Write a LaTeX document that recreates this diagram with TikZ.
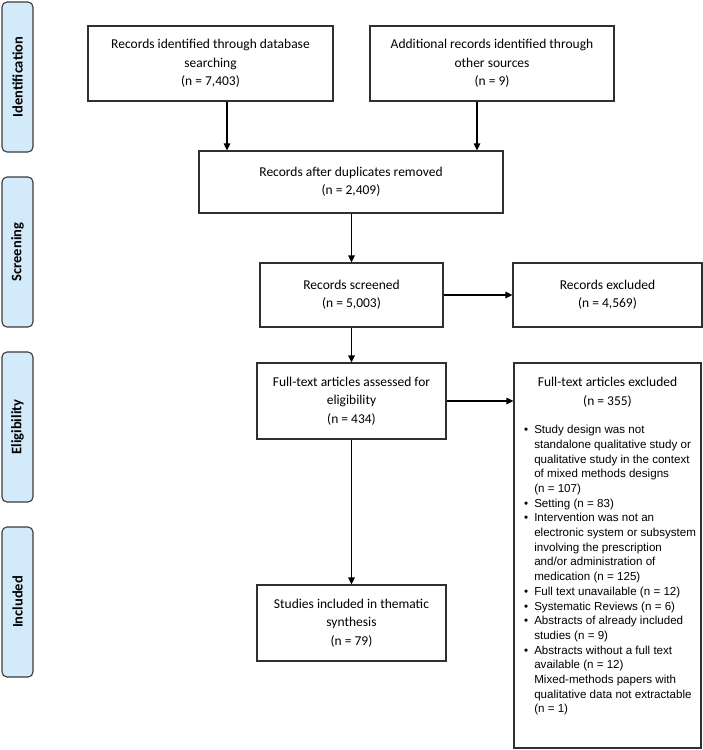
\documentclass[tikz,border=0pt]{standalone}
\usepackage{fontspec}
\setmainfont{Carlito}
\newfontfamily\arialf{Liberation Sans}
\usetikzlibrary{arrows.meta,calc}
\definecolor{lblfill}{HTML}{D3EAFB}
\definecolor{lbldraw}{HTML}{3A3A3A}
\definecolor{boxdraw}{HTML}{303030}
\begin{document}
\begin{tikzpicture}[x=1pt,y=-1pt,
  boxstyle/.style={draw=boxdraw,line width=1.2pt,align=center,inner sep=0pt,
    font=\fontsize{13.5}{18.3}\selectfont},
  lblstyle/.style={draw=lbldraw,fill=lblfill,line width=1.1pt,rounded corners=5pt,
    rotate=90,minimum width=150pt,minimum height=31pt,inner sep=0pt,
    font=\fontsize{14.5}{16}\selectfont\bfseries},
  arr/.style={-{Triangle[length=7pt,width=6.5pt]},line width=1.2pt,black}]
\useasboundingbox (0,0) rectangle (703,750);
\fill[white] (0,0) rectangle (703,750);

% phase labels
\node[lblstyle] (lid)  at (17.5,77)  {Identification};
\node[lblstyle] (lscr) at (17.5,252) {Screening};
\node[lblstyle] (lel)  at (17.5,427) {Eligibility};
\node[lblstyle] (lin)  at (17.5,602) {Included};

% boxes
\node[boxstyle,minimum width=245pt,minimum height=75pt] (A) at (210.5,63.5)
  {Records identified through database\\searching\\(n = 7,403)};
\node[boxstyle,minimum width=244pt,minimum height=75pt] (B) at (492,63.5)
  {Additional records identified through\\other sources\\(n = 9)};
\node[boxstyle,minimum width=304pt,minimum height=62pt] (C) at (351,182)
  {Records after duplicates removed\\(n = 2,409)};
\node[boxstyle,minimum width=183pt,minimum height=64pt] (D) at (351.5,295)
  {Records screened\\(n = 5,003)};
\node[boxstyle,minimum width=189pt,minimum height=64pt] (E) at (607.5,295)
  {Records excluded\\(n = 4,569)};
\node[boxstyle,minimum width=189pt,minimum height=76pt] (F) at (351.5,401)
  {Full-text articles assessed for\\eligibility\\(n = 434)};
\node[boxstyle,minimum width=189pt,minimum height=76pt] (G) at (351.5,623)
  {Studies included in thematic\\synthesis\\(n = 79)};
\node[boxstyle,minimum width=187pt,minimum height=385pt] (H) at (607.5,555.5) {};
\node[align=center,inner sep=0pt,font=\fontsize{13.5}{19}\selectfont] (Hhead) at (607.5,392.5)
  {Full-text articles excluded\\(n = 355)};
\node[anchor=north west,inner sep=0pt,font=\arialf\fontsize{11.6}{14.7}\selectfont] (Hlist) at (524,423.2)
  {\begin{tabular}{@{}l@{\hspace{6pt}}l@{}}
  • & Study design was not\\
    & standalone qualitative study or\\
    & qualitative study in the context\\
    & of mixed methods designs\\
    & (n = 107)\\
  • & Setting (n = 83)\\
  • & Intervention was not an\\
    & electronic system or subsystem\\
    & involving the prescription\\
    & and/or administration of\\
    & medication (n = 125)\\
  • & Full text unavailable (n = 12)\\
  • & Systematic Reviews (n = 6)\\
  • & Abstracts of already included\\
    & studies (n = 9)\\
  • & Abstracts without a full text\\
    & available (n = 12)\\
    & Mixed-methods papers with\\
    & qualitative data not extractable\\
    & (n = 1)
  \end{tabular}};

% connectors
\draw[arr] (A.south -| 227,0) -- (C.north -| 227,0);
\draw[arr] (B.south -| 477,0) -- (C.north -| 477,0);
\draw[arr] (C.south -| D.north) -- (D.north);
\draw[arr] (D.east) -- (E.west);
\draw[arr] (D.south) -- (F.north);
\draw[arr] (F.east) -- (F.east -| H.west);
\draw[arr] (F.south) -- (G.north);
\end{tikzpicture}
\end{document}
